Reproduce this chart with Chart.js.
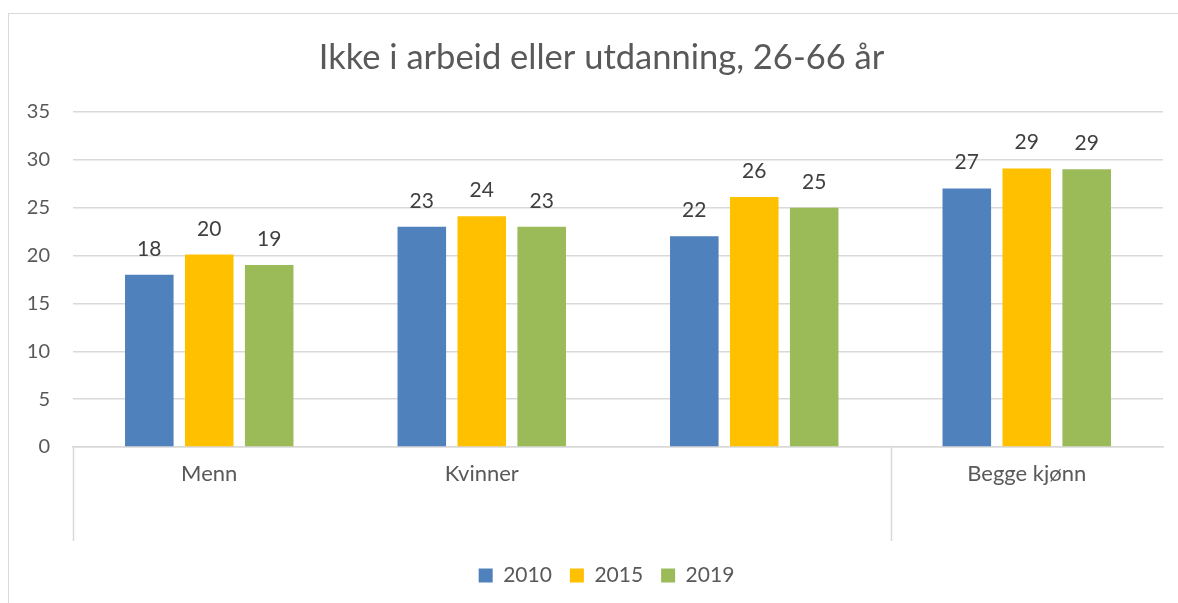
<!DOCTYPE html>
<html>
<head>
<meta charset="utf-8">
<script src="https://cdn.jsdelivr.net/npm/chart.js@4.4.1/dist/chart.umd.min.js"></script>
<style>
  html, body { margin: 0; padding: 0; background: #fff; }
  #wrap { position: relative; width: 1178px; height: 603px; overflow: hidden; }
  #frame { position: absolute; left: 8px; top: 13px; width: 1200px; height: 700px; border: 1.5px solid #d9d9d9; box-sizing: border-box; }
  canvas { position: absolute; left: 0; top: 0; }
</style>
</head>
<body>
<div id="wrap">
  <div id="frame"></div>
  <canvas id="c" width="1178" height="603"></canvas>
</div>
<script>
const categories = ['Menn', 'Kvinner', '', 'Begge kjønn'];
const years = ['2010', '2015', '2019'];
const values2010 = [18, 23, 22, 27];
const values2015 = [20.1, 24.1, 26.1, 29.1];
const values2019 = [19, 23, 25, 29];
const yTicks = [0, 5, 10, 15, 20, 25, 30, 35];
const colors = ['#4F81BD', '#FFC000', '#9BBB59'];
const FONT = 'Lato, "Open Sans", sans-serif';
const TEXT = '#595959';

const dataLabels = {
  id: 'dataLabels',
  afterDatasetsDraw(chart) {
    const ctx = chart.ctx;
    ctx.save();
    ctx.font = '21px ' + FONT;
    ctx.fillStyle = '#404040';
    ctx.textAlign = 'center';
    ctx.textBaseline = 'alphabetic';
    chart.data.datasets.forEach((ds, di) => {
      const meta = chart.getDatasetMeta(di);
      meta.data.forEach((bar, i) => {
        ctx.fillText(String(Math.round(ds.data[i])), bar.x, bar.y - 19);
      });
    });
    ctx.restore();
  }
};

const separators = {
  id: 'separators',
  afterDraw(chart) {
    const x = chart.scales.x;
    const ctx = chart.ctx;
    const top = chart.chartArea.bottom;
    const bottom = top + 94;
    const xs = [x.left, (x.getPixelForValue(2) + x.getPixelForValue(3)) / 2];
    ctx.save();
    ctx.strokeStyle = '#d9d9d9';
    ctx.lineWidth = 1.5;
    xs.forEach(px => {
      ctx.beginPath();
      ctx.moveTo(Math.round(px) + 0.5, top);
      ctx.lineTo(Math.round(px) + 0.5, bottom);
      ctx.stroke();
    });
    ctx.restore();
  }
};

// Center title and legend on the same band as the original (inside the frame, right of the axis labels)
const shiftBlocks = {
  id: 'shiftBlocks',
  afterLayout(chart) {
    if (chart.titleBlock) chart.titleBlock.left = 40;
    if (chart.legend) chart.legend.left = 50;
  }
};

const datasets = [values2010, values2015, values2019].map((vals, i) => ({
  label: years[i],
  data: vals,
  backgroundColor: colors[i],
  borderWidth: 0,
  categoryPercentage: 0.66,
  barPercentage: 0.81
}));

new Chart(document.getElementById('c'), {
  type: 'bar',
  data: { labels: categories, datasets },
  options: {
    responsive: false,
    animation: false,
    layout: { padding: { left: 0, right: 15, top: 0, bottom: 7 } },
    plugins: {
      title: {
        display: true,
        text: 'Ikke i arbeid eller utdanning, 26-66 år',
        color: TEXT,
        font: { family: FONT, size: 34.5, weight: 'normal', lineHeight: 1.2 },
        padding: { top: 37, bottom: 33.5 }
      },
      legend: {
        position: 'bottom',
        labels: {
          color: TEXT,
          font: { family: FONT, size: 21 },
          boxWidth: 14,
          boxHeight: 14,
          padding: 18
        }
      },
      tooltip: { enabled: false }
    },
    scales: {
      x: {
        grid: { display: false },
        border: { display: true, color: '#d9d9d9', width: 1.5 },
        ticks: { color: TEXT, font: { family: FONT, size: 22 }, padding: 6, maxRotation: 0, autoSkip: false },
        afterFit(scale) { scale.height = 100; }
      },
      y: {
        min: 0,
        max: 35,
        afterBuildTicks(scale) { scale.ticks = yTicks.map(v => ({ value: v })); },
        grid: { color: '#d9d9d9', lineWidth: 1.5, drawTicks: false },
        border: { display: false },
        ticks: { color: TEXT, font: { family: FONT, size: 20 }, padding: 23 },
        afterFit(scale) { scale.width = 73; }
      }
    }
  },
  plugins: [dataLabels, separators, shiftBlocks]
});
</script>
</body>
</html>
